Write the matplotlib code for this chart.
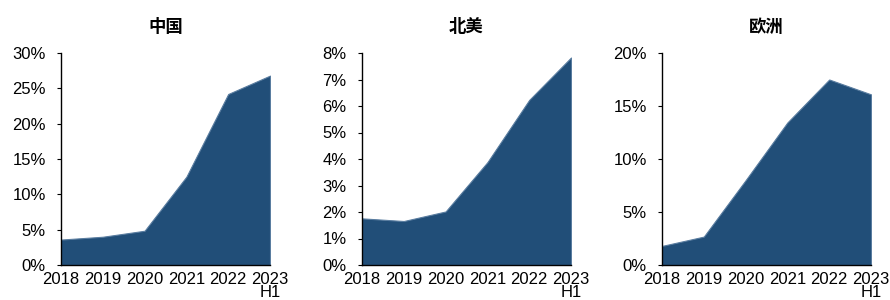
import matplotlib.pyplot as plt
from matplotlib.ticker import FuncFormatter, MultipleLocator

plt.rcParams['font.family'] = ['Liberation Sans', 'Noto Sans CJK SC', 'DejaVu Sans']

years = ['2018', '2019', '2020', '2021', '2022', '2023\nH1']
regions = ['中国', '北美', '欧洲']
china = [3.6, 4.0, 4.85, 12.5, 24.2, 26.8]
north_america = [1.76, 1.66, 2.02, 3.88, 6.23, 7.83]
europe = [1.8, 2.68, 8.0, 13.45, 17.5, 16.1]
series = [china, north_america, europe]
ymax = [30, 8, 20]
ystep = [5, 1, 5]

fill_color = '#214E78'

fig = plt.figure(figsize=(8.9, 3.0), dpi=100)
lefts = [61, 362, 662]
for i, (name, vals) in enumerate(zip(regions, series)):
    ax = fig.add_axes([lefts[i] / 890, 35 / 300, 209 / 890, 212 / 300])
    x = range(len(years))
    ax.fill_between(x, vals, 0, color=fill_color, linewidth=0.8, edgecolor='#5A7DA0')
    ax.set_xlim(0, len(years) - 1)
    ax.set_ylim(0, ymax[i])
    ax.yaxis.set_major_locator(MultipleLocator(ystep[i]))
    ax.yaxis.set_major_formatter(FuncFormatter(lambda v, p: f'{v:.0f}%'))
    ax.set_xticks(list(x))
    ax.set_xticklabels(years, fontsize=12, linespacing=0.85)
    ax.tick_params(axis='y', labelsize=12, length=3, width=0.8, pad=8)
    ax.tick_params(axis='x', length=0, pad=5)
    for s in ['top', 'right']:
        ax.spines[s].set_visible(False)
    for s in ['left', 'bottom']:
        ax.spines[s].set_linewidth(1.0)
        ax.spines[s].set_color('black')
    ax.set_title(name, fontsize=12.5, fontweight='bold', pad=15,
                 family=['Noto Sans CJK SC', 'DejaVu Sans'])

fig.savefig('out.png', dpi=100)
